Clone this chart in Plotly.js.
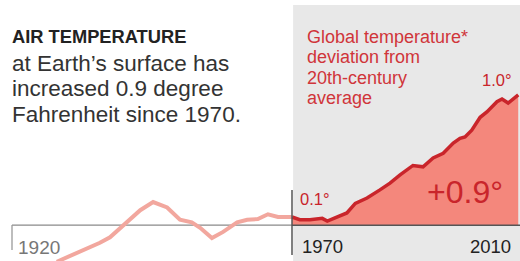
<!DOCTYPE html>
<html><head><meta charset="utf-8">
<script src="https://cdn.plot.ly/plotly-3.0.1.min.js"></script>
<style>html,body{margin:0;padding:0;background:#fff}#chart{width:520px;height:261px}</style>
</head><body><div id="chart"></div>
<script>
// Global temperature deviation (°F)
const yearsBefore = [1928, 1933, 1935.7, 1937.5, 1940.5, 1942.9, 1945.2, 1947.7, 1950, 1952.1, 1953.6, 1955.7, 1957.7, 1960.2, 1962, 1963.9, 1965.7, 1967.5, 1970];
const valuesBefore = [-0.23, -0.14, -0.09, -0.05, 0.06, 0.15, 0.21, 0.17, 0.08, 0.06, 0.02, -0.055, -0.01, 0.06, 0.08, 0.085, 0.12, 0.10, 0.10];
const yearsAfter = [1970, 1971.4, 1973.2, 1975.4, 1976.3, 1978, 1979.8, 1981.3, 1983.4, 1985.7, 1987.5, 1989.3, 1991.6, 1993.4, 1995.2, 1997, 1998.8, 2000, 2000.9, 2002.1, 2003.6, 2004.8, 2006.6, 2007.5, 2008.6, 2010.4];
const valuesAfter = [0.10, 0.08, 0.08, 0.09, 0.07, 0.10, 0.13, 0.20, 0.24, 0.30, 0.35, 0.41, 0.48, 0.47, 0.535, 0.57, 0.645, 0.68, 0.69, 0.74, 0.835, 0.875, 0.95, 0.97, 0.94, 1.0];
const baseValue = 0.04;
const tickYears = [1920, 1970, 2010];
const tickLabels = ['1920', '1970', '2010'];

const W = 520, H = 261;
const px = x => x / W, py = y => 1 - y / H;
const FONT = 'Liberation Sans, Arial, Helvetica, sans-serif';
const RED = '#c9252b';

const traces = [
  {x: yearsAfter, y: yearsAfter.map(() => baseValue), mode: 'lines', line: {width: 0, color: 'rgba(0,0,0,0)'}, hoverinfo: 'skip', showlegend: false},
  {x: yearsAfter, y: valuesAfter, mode: 'lines', fill: 'tonexty', fillcolor: '#f4877c', line: {color: RED, width: 3.5}, hoverinfo: 'skip', showlegend: false},
  {x: yearsBefore, y: valuesBefore, mode: 'lines', line: {color: '#f2a79e', width: 4}, hoverinfo: 'skip', showlegend: false}
];

function ann(text, x, y, size, color, opts) {
  return Object.assign({text: text, xref: 'paper', yref: 'paper', x: px(x), y: py(y - 0.347 * size),
    xanchor: 'left', yanchor: 'middle', showarrow: false, borderpad: 0,
    font: {family: FONT, size: size, color: color}}, opts || {});
}

const layout = {
  width: W, height: H, margin: {l: 0, r: 0, t: 0, b: 0},
  paper_bgcolor: '#fff', plot_bgcolor: 'rgba(0,0,0,0)', showlegend: false,
  xaxis: {range: [1917.857, 2010.714], visible: false, fixedrange: true},
  yaxis: {range: [-0.2245, 1.700], visible: false, fixedrange: true},
  shapes: [
    {type: 'rect', xref: 'x', yref: 'paper', x0: 1970.2, x1: 2011, y0: 0, y1: py(5), fillcolor: '#e8e8e8', line: {width: 0}, layer: 'below'},
    {type: 'line', xref: 'x', yref: 'y', x0: tickYears[0], x1: tickYears[1], y0: baseValue, y1: baseValue, line: {color: '#8a8a8a', width: 1.3}, layer: 'below'},
    {type: 'line', xref: 'x', yref: 'y', x0: tickYears[1], x1: 2011, y0: baseValue, y1: baseValue, line: {color: '#555', width: 1.5}, layer: 'above'},
    {type: 'line', xref: 'x', yref: 'paper', x0: tickYears[0], x1: tickYears[0], y0: py(225), y1: py(250), line: {color: '#9a9a9a', width: 1.3}},
    {type: 'line', xref: 'x', yref: 'paper', x0: tickYears[1], x1: tickYears[1], y0: py(190), y1: py(255), line: {color: '#555', width: 1.5}}
  ],
  annotations: [
    ann('<b>AIR TEMPERATURE</b>', 11, 43, 18.3, '#222'),
    ann('at Earth’s surface has', 11, 71, 22.5, '#333'),
    ann('increased 0.9 degree', 11, 96.5, 22.5, '#333'),
    ann('Fahrenheit since 1970.', 11, 122, 22.5, '#333'),
    ann('Global temperature*', 306, 43, 18, '#d0353a'),
    ann('deviation from', 306, 63.5, 18, '#d0353a'),
    ann('20th-century', 306, 84, 18, '#d0353a'),
    ann('average', 306, 104, 18, '#d0353a'),
    ann('1.0°', 513, 86, 16.5, RED, {xanchor: 'right'}),
    ann('0.1°', 299, 205, 16.5, RED),
    ann('+0.9°', 426, 203, 32, RED),
    ann(tickLabels[0], 17, 254, 19, '#777'),
    ann(tickLabels[1], 301, 253, 18.5, '#222'),
    ann(tickLabels[2], 512, 253, 18.5, '#222', {xanchor: 'right'})
  ]
};

Plotly.newPlot('chart', traces, layout, {staticPlot: true, displayModeBar: false});
</script></body></html>
